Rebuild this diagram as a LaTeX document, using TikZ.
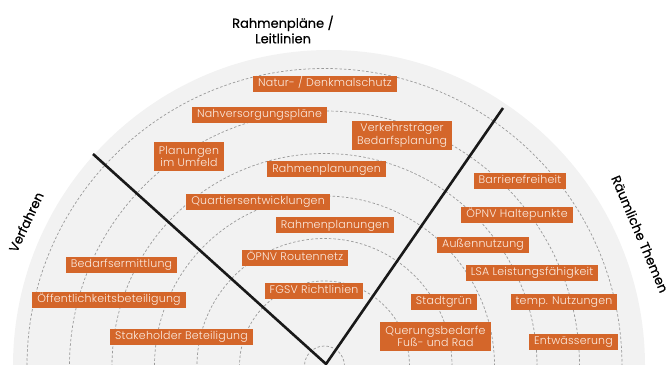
\documentclass[tikz,border=0pt]{standalone}
\usepackage{fontspec}
\IfFontExistsTF{Poppins Light}{\setmainfont{Poppins Light}[LetterSpace=2]}{\setmainfont{Poppins}}
\newfontfamily\headfont{Poppins}[FakeBold=0.4]
\usepackage{tikz}
\usetikzlibrary{arrows.meta, calc}
\usepackage{xcolor}
\definecolor{planorange}{HTML}{D4662A}
\definecolor{tagtext}{HTML}{FCEDE3}
\definecolor{discgrey}{HTML}{F2F2F2}
\definecolor{ringgrey}{HTML}{9A9A9A}

\begin{document}
\begin{tikzpicture}[
    x=1pt, y=1pt,
    tag/.style={fill=planorange, text=tagtext, align=center,
                font=\fontsize{11}{12.5}\selectfont,
                inner xsep=5pt, inner ysep=2.75pt, text height=8pt, text depth=2.5pt},
    tagtwo/.style={tag, text height=, text depth=, inner ysep=1pt, minimum height=28.5pt},
    ring/.style={ringgrey, dash pattern=on 2.5pt off 2pt, line width=0.7pt},
    divider/.style={black!90, line width=2.6pt},
    head/.style={font=\headfont\fontsize{13}{15.5}\selectfont, align=center}
  ]
    \useasboundingbox (0,0) rectangle (668,364);

    % disc and dashed rings
    \coordinate (disc) at (329,-2);
    \coordinate (ctr) at (324.5,-2);
    \begin{scope}
      \clip (0,0) rectangle (668,364);
      \fill[discgrey] (disc) circle[radius=316pt];
      \foreach \r in {20,85,127.5,170,212.5,255,297.5}
        \draw[ring] (ctr) circle[radius=\r pt];
    \end{scope}

    % the two dividing lines
    \coordinate (apex) at (326,0);
    \coordinate (lend) at (93,210);
    \coordinate (rend) at (503,256);
    \draw[divider] (lend) -- (apex) -- (rend);

    % sector titles
    \node[head] (tplan) at (283,334.5) {Rahmenpläne /\\Leitlinien};
    \node[head, rotate=65] (tverf) at (26,142) {Verfahren};
    \node[head, rotate=-67] (tthem) at (640,130) {Räumliche Themen};

    % tags
    \node[tag] (natur) at (325,280) {Natur- / Denkmalschutz};
    \node[tag] (nahv) at (259.5,249) {Nahversorgungspläne};
    \node[tagtwo] (verk) at (402,228.5) {Verkehrsträger\\Bedarfsplanung};
    \node[tagtwo] (umfeld) at (189,207.5) {Planungen\\im Umfeld};
    \node[tag] (rahmA) at (326.5,194.5) {Rahmenplanungen};
    \node[tag] (barr) at (520,183) {Barrierefreiheit};
    \node[tag] (quart) at (258,162) {Quartiersentwicklungen};
    \node[tag] (rahmB) at (335,138.5) {Rahmenplanungen};
    \node[tag] (halte) at (517,149) {ÖPNV Haltepunkte};
    \node[tag] (aussen) at (483,119) {Außennutzung};
    \node[tag] (bedarf) at (121.5,99) {Bedarfsermittlung};
    \node[tag] (route) at (295,106.5) {ÖPNV Routennetz};
    \node[tag] (lsa) at (532,91) {LSA Leistungsfähigkeit};
    \node[tag] (fgsv) at (314,73) {FGSV Richtlinien};
    \node[tag] (oeff) at (109,64) {Öffentlichkeitsbeteiligung};
    \node[tag] (stadt) at (444,62) {Stadtgrün};
    \node[tag] (temp) at (564,62) {temp. Nutzungen};
    \node[tag] (stake) at (181.5,27) {Stakeholder Beteiligung};
    \node[tagtwo] (quer) at (435.5,27.5) {Querungsbedarfe\\Fuß- und Rad};
    \node[tag] (entw) at (573.5,22.5) {Entwässerung};
  \end{tikzpicture}
\end{document}
